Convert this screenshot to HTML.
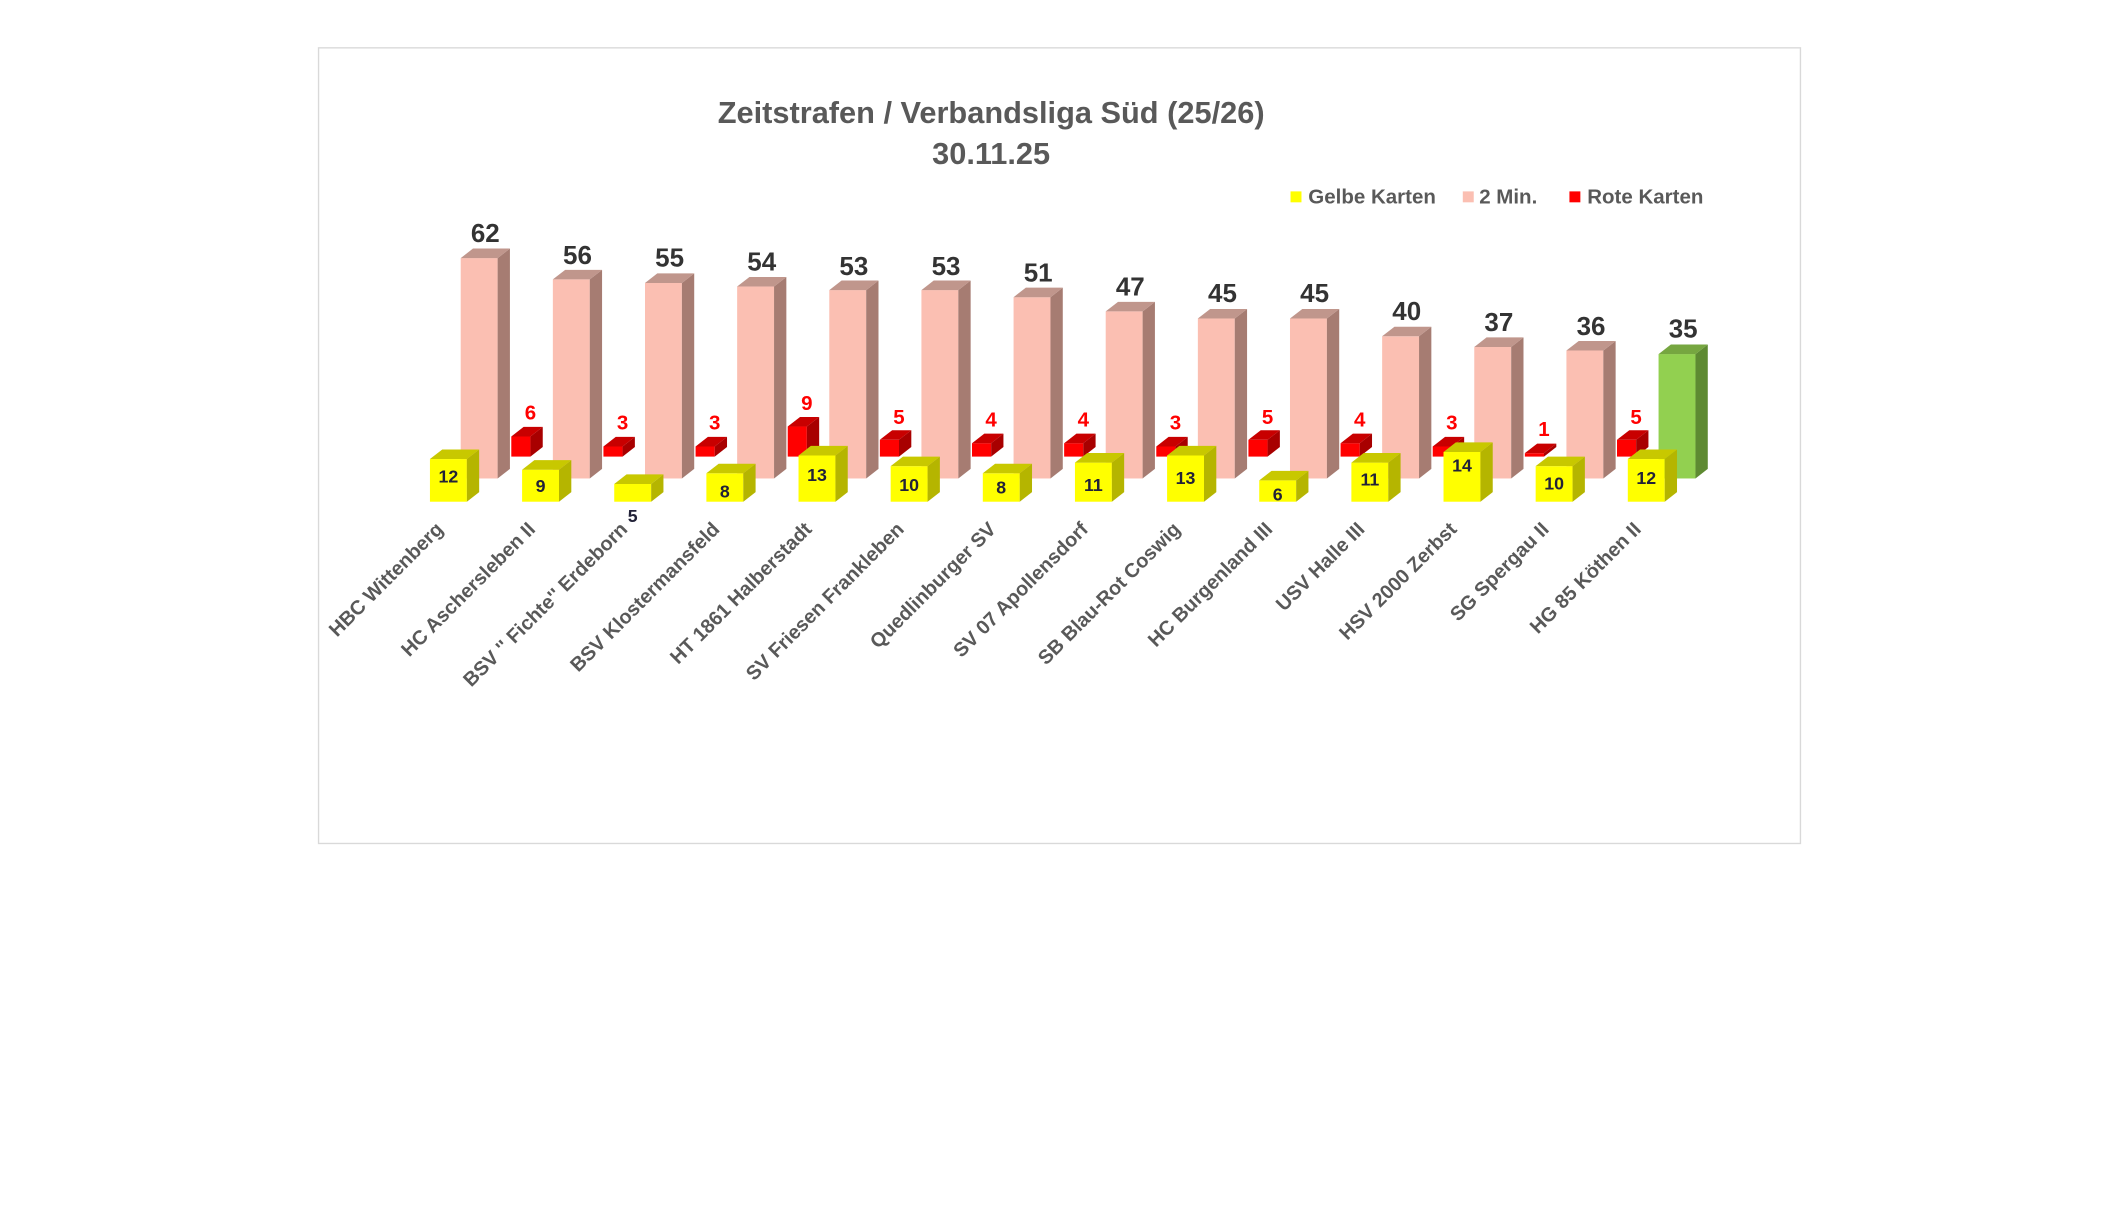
<!DOCTYPE html>
<html><head><meta charset="utf-8"><style>html,body{margin:0;padding:0;background:#fff}svg{display:block}</style></head><body>
<svg width="2119" height="1216" viewBox="0 0 1550 889.5" preserveAspectRatio="none" xmlns="http://www.w3.org/2000/svg" font-family="Liberation Sans, Arial, sans-serif">
<defs>
<style>
.pf{fill:#fbbfb2}.ps{fill:#a67c72}.pt{fill:#c0968c}
.rf{fill:#ff0000}.rs{fill:#a80000}.rt{fill:#c80000}
.yf{fill:#ffff00}.ys{fill:#b5b500}.yt{fill:#c8c800}
.gf{fill:#92d050}.gs{fill:#5e8a32}.gt{fill:#76a640}
.pv{font-size:19px;font-weight:bold;fill:#333;text-anchor:middle}
.rv{font-size:15px;font-weight:bold;fill:#ff0000;text-anchor:middle}
.yv{font-size:13px;font-weight:bold;fill:#222238;text-anchor:middle}
.cl{font-size:14.5px;font-weight:bold;fill:#595959;text-anchor:end}
</style>
</defs>
<rect x="233" y="35" width="1084" height="582" fill="#fff" stroke="#d9d9d9" stroke-width="1"/>
<text x="725" y="90" text-anchor="middle" font-size="22.5" font-weight="bold" fill="#595959">Zeitstrafen / Verbandsliga Süd (25/26)</text>
<text x="725" y="120" text-anchor="middle" font-size="22.5" font-weight="bold" fill="#595959">30.11.25</text>
<rect x="944" y="140" width="8" height="8" fill="#ffff00"/><text x="957" y="149" font-size="15" font-weight="bold" fill="#595959">Gelbe Karten</text>
<rect x="1070" y="140" width="8" height="8" fill="#fbbfb2"/><text x="1082" y="149" font-size="15" font-weight="bold" fill="#595959">2 Min.</text>
<rect x="1148" y="140" width="8" height="8" fill="#ff0000"/><text x="1161" y="149" font-size="15" font-weight="bold" fill="#595959">Rote Karten</text>

<g transform="translate(337,350)"><rect class="pf" x="0" y="-161.2" width="27" height="161.2"/><path class="ps" d="M27,0 l9,-7 v-161.2 l-9,7z"/><path class="pt" d="M0,-161.2 l9,-7 h27 l-9,7z"/><text class="pv" x="18" y="-173">62</text></g>
<g transform="translate(404.4,350)"><rect class="pf" x="0" y="-145.6" width="27" height="145.6"/><path class="ps" d="M27,0 l9,-7 v-145.6 l-9,7z"/><path class="pt" d="M0,-145.6 l9,-7 h27 l-9,7z"/><text class="pv" x="18" y="-157">56</text></g>
<g transform="translate(471.8,350)"><rect class="pf" x="0" y="-143" width="27" height="143"/><path class="ps" d="M27,0 l9,-7 v-143 l-9,7z"/><path class="pt" d="M0,-143 l9,-7 h27 l-9,7z"/><text class="pv" x="18" y="-155">55</text></g>
<g transform="translate(539.2,350)"><rect class="pf" x="0" y="-140.4" width="27" height="140.4"/><path class="ps" d="M27,0 l9,-7 v-140.4 l-9,7z"/><path class="pt" d="M0,-140.4 l9,-7 h27 l-9,7z"/><text class="pv" x="18" y="-152">54</text></g>
<g transform="translate(606.6,350)"><rect class="pf" x="0" y="-137.8" width="27" height="137.8"/><path class="ps" d="M27,0 l9,-7 v-137.8 l-9,7z"/><path class="pt" d="M0,-137.8 l9,-7 h27 l-9,7z"/><text class="pv" x="18" y="-149">53</text></g>
<g transform="translate(674,350)"><rect class="pf" x="0" y="-137.8" width="27" height="137.8"/><path class="ps" d="M27,0 l9,-7 v-137.8 l-9,7z"/><path class="pt" d="M0,-137.8 l9,-7 h27 l-9,7z"/><text class="pv" x="18" y="-149">53</text></g>
<g transform="translate(741.4,350)"><rect class="pf" x="0" y="-132.6" width="27" height="132.6"/><path class="ps" d="M27,0 l9,-7 v-132.6 l-9,7z"/><path class="pt" d="M0,-132.6 l9,-7 h27 l-9,7z"/><text class="pv" x="18" y="-144">51</text></g>
<g transform="translate(808.8,350)"><rect class="pf" x="0" y="-122.2" width="27" height="122.2"/><path class="ps" d="M27,0 l9,-7 v-122.2 l-9,7z"/><path class="pt" d="M0,-122.2 l9,-7 h27 l-9,7z"/><text class="pv" x="18" y="-134">47</text></g>
<g transform="translate(876.2,350)"><rect class="pf" x="0" y="-117" width="27" height="117"/><path class="ps" d="M27,0 l9,-7 v-117 l-9,7z"/><path class="pt" d="M0,-117 l9,-7 h27 l-9,7z"/><text class="pv" x="18" y="-129">45</text></g>
<g transform="translate(943.6,350)"><rect class="pf" x="0" y="-117" width="27" height="117"/><path class="ps" d="M27,0 l9,-7 v-117 l-9,7z"/><path class="pt" d="M0,-117 l9,-7 h27 l-9,7z"/><text class="pv" x="18" y="-129">45</text></g>
<g transform="translate(1011,350)"><rect class="pf" x="0" y="-104" width="27" height="104"/><path class="ps" d="M27,0 l9,-7 v-104 l-9,7z"/><path class="pt" d="M0,-104 l9,-7 h27 l-9,7z"/><text class="pv" x="18" y="-116">40</text></g>
<g transform="translate(1078.4,350)"><rect class="pf" x="0" y="-96.2" width="27" height="96.2"/><path class="ps" d="M27,0 l9,-7 v-96.2 l-9,7z"/><path class="pt" d="M0,-96.2 l9,-7 h27 l-9,7z"/><text class="pv" x="18" y="-108">37</text></g>
<g transform="translate(1145.8,350)"><rect class="pf" x="0" y="-93.6" width="27" height="93.6"/><path class="ps" d="M27,0 l9,-7 v-93.6 l-9,7z"/><path class="pt" d="M0,-93.6 l9,-7 h27 l-9,7z"/><text class="pv" x="18" y="-105">36</text></g>
<g transform="translate(1213.2,350)"><rect class="gf" x="0" y="-91" width="27" height="91"/><path class="gs" d="M27,0 l9,-7 v-91 l-9,7z"/><path class="gt" d="M0,-91 l9,-7 h27 l-9,7z"/><text class="pv" x="18" y="-103">35</text></g>

<g transform="translate(374,334)"><rect class="rf" x="0" y="-14.7" width="14" height="14.7"/><path class="rs" d="M14,0 l9,-7 v-14.7 l-9,7z"/><path class="rt" d="M0,-14.7 l9,-7 h14 l-9,7z"/><text class="rv" x="14" y="-27">6</text></g>
<g transform="translate(441.4,334)"><rect class="rf" x="0" y="-7.4" width="14" height="7.4"/><path class="rs" d="M14,0 l9,-7 v-7.4 l-9,7z"/><path class="rt" d="M0,-7.4 l9,-7 h14 l-9,7z"/><text class="rv" x="14" y="-20">3</text></g>
<g transform="translate(508.8,334)"><rect class="rf" x="0" y="-7.4" width="14" height="7.4"/><path class="rs" d="M14,0 l9,-7 v-7.4 l-9,7z"/><path class="rt" d="M0,-7.4 l9,-7 h14 l-9,7z"/><text class="rv" x="14" y="-20">3</text></g>
<g transform="translate(576.2,334)"><rect class="rf" x="0" y="-22" width="14" height="22"/><path class="rs" d="M14,0 l9,-7 v-22 l-9,7z"/><path class="rt" d="M0,-22 l9,-7 h14 l-9,7z"/><text class="rv" x="14" y="-34">9</text></g>
<g transform="translate(643.6,334)"><rect class="rf" x="0" y="-12.3" width="14" height="12.3"/><path class="rs" d="M14,0 l9,-7 v-12.3 l-9,7z"/><path class="rt" d="M0,-12.3 l9,-7 h14 l-9,7z"/><text class="rv" x="14" y="-24">5</text></g>
<g transform="translate(711,334)"><rect class="rf" x="0" y="-9.8" width="14" height="9.8"/><path class="rs" d="M14,0 l9,-7 v-9.8 l-9,7z"/><path class="rt" d="M0,-9.8 l9,-7 h14 l-9,7z"/><text class="rv" x="14" y="-22">4</text></g>
<g transform="translate(778.4,334)"><rect class="rf" x="0" y="-9.8" width="14" height="9.8"/><path class="rs" d="M14,0 l9,-7 v-9.8 l-9,7z"/><path class="rt" d="M0,-9.8 l9,-7 h14 l-9,7z"/><text class="rv" x="14" y="-22">4</text></g>
<g transform="translate(845.8,334)"><rect class="rf" x="0" y="-7.4" width="14" height="7.4"/><path class="rs" d="M14,0 l9,-7 v-7.4 l-9,7z"/><path class="rt" d="M0,-7.4 l9,-7 h14 l-9,7z"/><text class="rv" x="14" y="-20">3</text></g>
<g transform="translate(913.2,334)"><rect class="rf" x="0" y="-12.3" width="14" height="12.3"/><path class="rs" d="M14,0 l9,-7 v-12.3 l-9,7z"/><path class="rt" d="M0,-12.3 l9,-7 h14 l-9,7z"/><text class="rv" x="14" y="-24">5</text></g>
<g transform="translate(980.6,334)"><rect class="rf" x="0" y="-9.8" width="14" height="9.8"/><path class="rs" d="M14,0 l9,-7 v-9.8 l-9,7z"/><path class="rt" d="M0,-9.8 l9,-7 h14 l-9,7z"/><text class="rv" x="14" y="-22">4</text></g>
<g transform="translate(1048,334)"><rect class="rf" x="0" y="-7.4" width="14" height="7.4"/><path class="rs" d="M14,0 l9,-7 v-7.4 l-9,7z"/><path class="rt" d="M0,-7.4 l9,-7 h14 l-9,7z"/><text class="rv" x="14" y="-20">3</text></g>
<g transform="translate(1115.4,334)"><rect class="rf" x="0" y="-2.5" width="14" height="2.5"/><path class="rs" d="M14,0 l9,-7 v-2.5 l-9,7z"/><path class="rt" d="M0,-2.5 l9,-7 h14 l-9,7z"/><text class="rv" x="14" y="-15">1</text></g>
<g transform="translate(1182.8,334)"><rect class="rf" x="0" y="-12.3" width="14" height="12.3"/><path class="rs" d="M14,0 l9,-7 v-12.3 l-9,7z"/><path class="rt" d="M0,-12.3 l9,-7 h14 l-9,7z"/><text class="rv" x="14" y="-24">5</text></g>

<g transform="translate(314.5,367)"><rect class="yf" x="0" y="-31.2" width="27" height="31.2"/><path class="ys" d="M27,0 l9,-7 v-31.2 l-9,7z"/><path class="yt" d="M0,-31.2 l9,-7 h27 l-9,7z"/><text class="yv" x="13.5" y="-14">12</text></g>
<g transform="translate(381.9,367)"><rect class="yf" x="0" y="-23.4" width="27" height="23.4"/><path class="ys" d="M27,0 l9,-7 v-23.4 l-9,7z"/><path class="yt" d="M0,-23.4 l9,-7 h27 l-9,7z"/><text class="yv" x="13.5" y="-7">9</text></g>
<g transform="translate(449.3,367)"><rect class="yf" x="0" y="-13" width="27" height="13"/><path class="ys" d="M27,0 l9,-7 v-13 l-9,7z"/><path class="yt" d="M0,-13 l9,-7 h27 l-9,7z"/><text class="yv" x="13.5" y="15">5</text></g>
<g transform="translate(516.7,367)"><rect class="yf" x="0" y="-20.8" width="27" height="20.8"/><path class="ys" d="M27,0 l9,-7 v-20.8 l-9,7z"/><path class="yt" d="M0,-20.8 l9,-7 h27 l-9,7z"/><text class="yv" x="13.5" y="-3">8</text></g>
<g transform="translate(584.1,367)"><rect class="yf" x="0" y="-33.8" width="27" height="33.8"/><path class="ys" d="M27,0 l9,-7 v-33.8 l-9,7z"/><path class="yt" d="M0,-33.8 l9,-7 h27 l-9,7z"/><text class="yv" x="13.5" y="-15">13</text></g>
<g transform="translate(651.5,367)"><rect class="yf" x="0" y="-26" width="27" height="26"/><path class="ys" d="M27,0 l9,-7 v-26 l-9,7z"/><path class="yt" d="M0,-26 l9,-7 h27 l-9,7z"/><text class="yv" x="13.5" y="-8">10</text></g>
<g transform="translate(718.9,367)"><rect class="yf" x="0" y="-20.8" width="27" height="20.8"/><path class="ys" d="M27,0 l9,-7 v-20.8 l-9,7z"/><path class="yt" d="M0,-20.8 l9,-7 h27 l-9,7z"/><text class="yv" x="13.5" y="-6">8</text></g>
<g transform="translate(786.3,367)"><rect class="yf" x="0" y="-28.6" width="27" height="28.6"/><path class="ys" d="M27,0 l9,-7 v-28.6 l-9,7z"/><path class="yt" d="M0,-28.6 l9,-7 h27 l-9,7z"/><text class="yv" x="13.5" y="-8">11</text></g>
<g transform="translate(853.7,367)"><rect class="yf" x="0" y="-33.8" width="27" height="33.8"/><path class="ys" d="M27,0 l9,-7 v-33.8 l-9,7z"/><path class="yt" d="M0,-33.8 l9,-7 h27 l-9,7z"/><text class="yv" x="13.5" y="-13">13</text></g>
<g transform="translate(921.1,367)"><rect class="yf" x="0" y="-15.6" width="27" height="15.6"/><path class="ys" d="M27,0 l9,-7 v-15.6 l-9,7z"/><path class="yt" d="M0,-15.6 l9,-7 h27 l-9,7z"/><text class="yv" x="13.5" y="-1">6</text></g>
<g transform="translate(988.5,367)"><rect class="yf" x="0" y="-28.6" width="27" height="28.6"/><path class="ys" d="M27,0 l9,-7 v-28.6 l-9,7z"/><path class="yt" d="M0,-28.6 l9,-7 h27 l-9,7z"/><text class="yv" x="13.5" y="-12">11</text></g>
<g transform="translate(1055.9,367)"><rect class="yf" x="0" y="-36.4" width="27" height="36.4"/><path class="ys" d="M27,0 l9,-7 v-36.4 l-9,7z"/><path class="yt" d="M0,-36.4 l9,-7 h27 l-9,7z"/><text class="yv" x="13.5" y="-22">14</text></g>
<g transform="translate(1123.3,367)"><rect class="yf" x="0" y="-26" width="27" height="26"/><path class="ys" d="M27,0 l9,-7 v-26 l-9,7z"/><path class="yt" d="M0,-26 l9,-7 h27 l-9,7z"/><text class="yv" x="13.5" y="-9">10</text></g>
<g transform="translate(1190.7,367)"><rect class="yf" x="0" y="-31.2" width="27" height="31.2"/><path class="ys" d="M27,0 l9,-7 v-31.2 l-9,7z"/><path class="yt" d="M0,-31.2 l9,-7 h27 l-9,7z"/><text class="yv" x="13.5" y="-13">12</text></g>

<text class="cl" transform="translate(325,388) rotate(-45)">HBC Wittenberg</text>
<text class="cl" transform="translate(392.4,388) rotate(-45)">HC Aschersleben II</text>
<text class="cl" transform="translate(459.8,388) rotate(-45)">BSV '' Fichte'' Erdeborn</text>
<text class="cl" transform="translate(527.2,388) rotate(-45)">BSV Klostermansfeld</text>
<text class="cl" transform="translate(594.6,388) rotate(-45)">HT 1861 Halberstadt</text>
<text class="cl" transform="translate(662,388) rotate(-45)">SV Friesen Frankleben</text>
<text class="cl" transform="translate(729.4,388) rotate(-45)">Quedlinburger SV</text>
<text class="cl" transform="translate(796.8,388) rotate(-45)">SV 07 Apollensdorf</text>
<text class="cl" transform="translate(864.2,388) rotate(-45)">SB Blau-Rot Coswig</text>
<text class="cl" transform="translate(931.6,388) rotate(-45)">HC Burgenland III</text>
<text class="cl" transform="translate(999,388) rotate(-45)">USV Halle III</text>
<text class="cl" transform="translate(1066.4,388) rotate(-45)">HSV 2000 Zerbst</text>
<text class="cl" transform="translate(1133.8,388) rotate(-45)">SG Spergau II</text>
<text class="cl" transform="translate(1201.2,388) rotate(-45)">HG 85 Köthen II</text>
</svg>
</body></html>
